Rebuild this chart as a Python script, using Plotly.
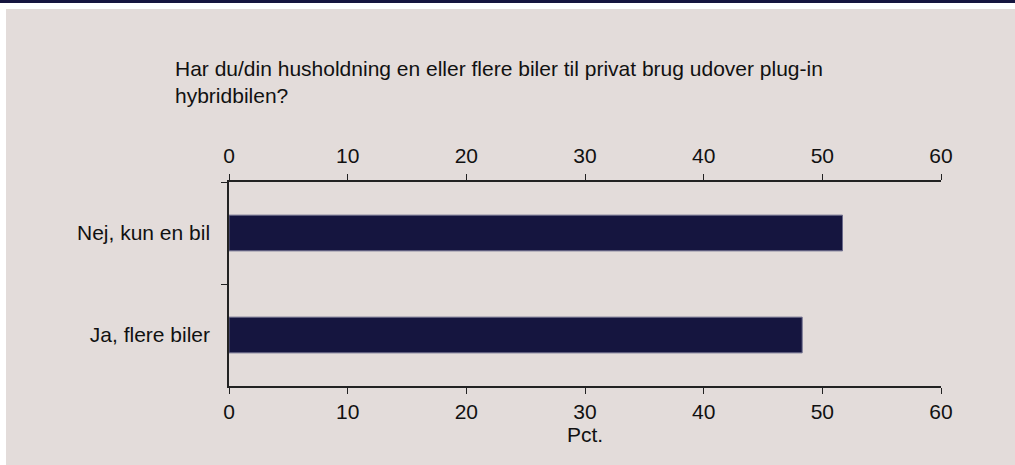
import plotly.graph_objects as go

categories = ["Nej, kun en bil", "Ja, flere biler"]
values = [51.7, 48.3]
tick_vals = [0, 10, 20, 30, 40, 50, 60]
title_text = "Har du/din husholdning en eller flere biler til privat brug udover plug-in<br>hybridbilen?"
x_title = "Pct."

W, H = 1015, 465
L, R, T, B = 229, 74, 182, 79
PW, PH = W - L - R, H - T - B
BG = "#e3dcda"
NAVY = "#15153f"
FONT = "Liberation Sans, Arial, sans-serif"
FS = 21


def px_x(p):
    return (p - L) / PW


def px_y(p):
    return 1 - (p - T) / PH


fig = go.Figure()
fig.add_trace(go.Bar(
    y=categories, x=values, orientation="h",
    marker=dict(color=NAVY, line=dict(color="#6a6a8a", width=1)),
    width=0.35, showlegend=False, xaxis="x", yaxis="y",
))
fig.add_trace(go.Scatter(x=[0, 60], y=[categories[0], categories[0]], mode="markers",
                         marker=dict(opacity=0), xaxis="x2", yaxis="y",
                         showlegend=False, hoverinfo="skip"))

axis_common = dict(range=[0, 60], tickvals=tick_vals, ticks="outside", ticklen=6,
                   tickcolor="#222", tickwidth=1, showline=True, linecolor="#222",
                   linewidth=1.5, showgrid=False, zeroline=False,
                   tickfont=dict(family=FONT, size=FS, color="#111"))

fig.update_layout(
    width=W, height=H,
    paper_bgcolor="white", plot_bgcolor="rgba(0,0,0,0)",
    margin=dict(l=L, r=R, t=T, b=B),
    font=dict(family=FONT, size=FS, color="#111"),
    xaxis=dict(**axis_common, side="bottom",
               title=dict(text=x_title, standoff=0, font=dict(family=FONT, size=FS, color="#111"))),
    xaxis2=dict(**axis_common, side="top", overlaying="x", anchor="y", ticklabelstandoff=3),
    yaxis=dict(categoryorder="array", categoryarray=categories, autorange=False,
               range=[1.5, -0.5], ticks="outside", ticklen=6, tickcolor="#222",
               tickson="boundaries", showline=True, linecolor="#222", linewidth=1.5,
               showgrid=False, zeroline=False, ticklabelstandoff=13,
               tickfont=dict(family=FONT, size=FS, color="#111")),
    shapes=[
        dict(type="rect", xref="paper", yref="paper", layer="below",
             x0=px_x(6), x1=px_x(W + 5), y0=px_y(H + 5), y1=px_y(9),
             fillcolor=BG, line=dict(width=0)),
        dict(type="rect", xref="paper", yref="paper", layer="below",
             x0=px_x(-5), x1=px_x(W + 5), y0=px_y(3), y1=px_y(-5),
             fillcolor=NAVY, line=dict(width=0)),
    ],
    annotations=[
        dict(text=title_text, xref="paper", yref="paper", showarrow=False,
             x=px_x(173), y=px_y(55),
             xanchor="left", yanchor="top", align="left",
             font=dict(family=FONT, size=FS, color="#111")),
    ],
)

fig.write_html("out.html", config={"displayModeBar": False},
               post_script="document.body.style.margin='0';document.body.style.overflow='hidden';")
